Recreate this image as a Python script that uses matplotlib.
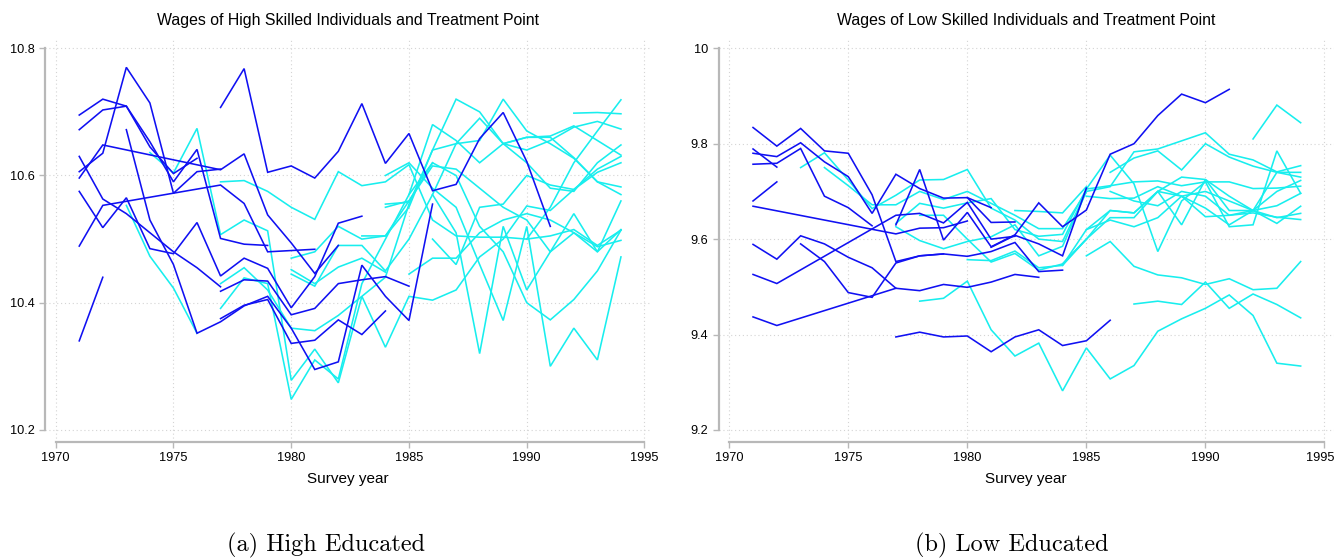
import numpy as np
import matplotlib
matplotlib.use("Agg")
import matplotlib.pyplot as plt
import matplotlib.transforms as mtransforms

plt.rcParams['font.family'] = ['Liberation Sans', 'DejaVu Sans']

BLUE = "#1010f2"
CYAN = "#18eeee"

# each individual: (first year or list of years, log wages)
# high educated, before treatment
high_pre = [
    (1971, [10.695, 10.720, 10.709, 10.653, 10.590, 10.641, 10.501, 10.492, 10.490]),
    (1971, [10.672, 10.703, 10.709, 10.645, 10.603, 10.627]),
    (1971, [10.606, 10.635, 10.770, 10.714, 10.572, 10.606, 10.610]),
    ([1971, 1972, 1977, 1978, 1979, 1980, 1981, 1982],
     [10.596, 10.648, 10.609, 10.634, 10.538, 10.494, 10.446, 10.490]),
    (1971, [10.630, 10.563, 10.540, 10.510, 10.480, 10.455, 10.425]),
    ([1971, 1972, 1977, 1978, 1979, 1980, 1981],
     [10.489, 10.553, 10.585, 10.556, 10.480, 10.482, 10.484]),
    (1971, [10.575, 10.518, 10.565, 10.485, 10.477, 10.526, 10.442, 10.470, 10.454,
            10.392, 10.441, 10.525, 10.536]),
    (1971, [10.340, 10.440]),
    (1973, [10.672, 10.530, 10.460, 10.352, 10.370, 10.395, 10.410, 10.360, 10.295,
            10.307, 10.459, 10.410, 10.372, 10.555]),
    (1977, [10.707, 10.768, 10.605, 10.615, 10.596, 10.638, 10.713, 10.619, 10.666,
            10.576, 10.586, 10.658, 10.699, 10.622, 10.520]),
    (1977, [10.418, 10.436, 10.434, 10.381, 10.391, 10.430, 10.436, 10.441, 10.426]),
    (1977, [10.375, 10.396, 10.405, 10.336, 10.341, 10.373, 10.350, 10.387]),
]

# high educated, after treatment
high_post = [
    (1973, [10.553, 10.473, 10.423, 10.352]),
    (1974, [10.636, 10.604, 10.674, 10.507, 10.530, 10.513, 10.278, 10.327, 10.274, 10.410,
            10.330, 10.410, 10.404, 10.420, 10.472, 10.500, 10.552, 10.545, 10.578, 10.605,
            10.620]),
    (1977, [10.590, 10.592, 10.575, 10.550, 10.531, 10.606, 10.584, 10.590, 10.617, 10.530,
            10.505, 10.503, 10.503, 10.500, 10.505, 10.515, 10.490, 10.514]),
    (1977, [10.430, 10.455, 10.420, 10.360, 10.356, 10.380, 10.410, 10.440, 10.555, 10.640,
            10.650, 10.690, 10.650, 10.660, 10.662, 10.678, 10.655, 10.632]),
    (1977, [10.391, 10.439, 10.430, 10.248, 10.310, 10.280, 10.430, 10.500, 10.570, 10.620,
            10.600, 10.520, 10.480, 10.400, 10.373, 10.405, 10.450, 10.514]),
    (1980, [10.470, 10.480, 10.520, 10.500, 10.505, 10.550, 10.640, 10.720, 10.700, 10.650,
            10.660, 10.660, 10.628, 10.590, 10.582]),
    (1980, [10.445, 10.426, 10.490, 10.490, 10.450, 10.500, 10.570, 10.650, 10.655, 10.720,
            10.670, 10.650, 10.627, 10.590, 10.570]),
    (1984, [10.550, 10.560, 10.615, 10.610, 10.580, 10.550, 10.530, 10.480, 10.510, 10.488,
            10.498]),
    (1985, [10.445, 10.470, 10.470, 10.510, 10.530, 10.540, 10.530, 10.510, 10.480, 10.515]),
    (1986, [10.500, 10.460, 10.550, 10.555, 10.600, 10.585, 10.578, 10.610, 10.630]),
    (1986, [10.570, 10.510, 10.320, 10.520, 10.420, 10.480, 10.540, 10.480, 10.560]),
    (1984, [10.600, 10.620, 10.580, 10.550, 10.460, 10.372, 10.520, 10.300, 10.360, 10.310,
            10.472]),
    (1985, [10.570, 10.680, 10.655, 10.620, 10.650, 10.620, 10.580, 10.575, 10.620, 10.648]),
    (1992, [10.698, 10.699, 10.697]),
    (1989, [10.650, 10.640, 10.655, 10.676, 10.685, 10.673]),
    (1990, [10.500, 10.550, 10.620, 10.670, 10.719]),
    (1980, [10.452, 10.430, 10.456, 10.470, 10.448]),
    (1984, [10.555, 10.558]),
    (1983, [10.505, 10.505, 10.560, 10.620]),
]

# low educated, before treatment
low_pre = [
    (1971, [9.834, 9.795, 9.832, 9.785, 9.780, 9.693, 9.553, 9.565, 9.569]),
    (1971, [9.789, 9.751]),
    (1971, [9.780, 9.773, 9.802, 9.762, 9.731, 9.654, 9.736, 9.706, 9.686, 9.687, 9.635,
            9.636]),
    (1971, [9.757, 9.759, 9.790, 9.690, 9.666, 9.628]),
    (1971, [9.680, 9.720]),
    ([1971, 1977, 1978, 1979, 1980], [9.669, 9.611, 9.623, 9.624, 9.638]),
    (1971, [9.589, 9.558, 9.607, 9.590, 9.562, 9.540, 9.497, 9.492, 9.505, 9.499, 9.510,
            9.526, 9.520]),
    ([1971, 1972, 1977, 1978, 1979, 1980, 1981, 1982],
     [9.526, 9.507, 9.650, 9.654, 9.634, 9.677, 9.600, 9.606]),
    ([1971, 1972, 1977], [9.437, 9.419, 9.497]),
    (1973, [9.590, 9.553, 9.488, 9.478, 9.550, 9.565, 9.569, 9.564, 9.574, 9.593, 9.532,
            9.535]),
    (1977, [9.395, 9.405, 9.395, 9.397, 9.364, 9.395, 9.410, 9.377, 9.387, 9.430]),
    (1977, [9.630, 9.746, 9.598, 9.656, 9.584, 9.609, 9.676, 9.626, 9.661, 9.778, 9.800,
            9.859, 9.904, 9.886, 9.914]),
    (1980, [9.687, 9.666]),
    (1981, [9.583, 9.608, 9.590, 9.565, 9.707]),
]

# low educated, after treatment
low_post = [
    (1973, [9.750, 9.781, 9.724, 9.664, 9.692, 9.724, 9.725, 9.746, 9.665, 9.640, 9.600,
            9.595, 9.700]),
    (1974, [9.750, 9.712, 9.672, 9.672, 9.700, 9.683, 9.700, 9.675, 9.650, 9.622, 9.622,
            9.700]),
    (1977, [9.633, 9.675, 9.665, 9.676, 9.685, 9.620, 9.606, 9.610, 9.705]),
    (1977, [9.626, 9.597, 9.580, 9.595, 9.605, 9.630, 9.565, 9.585, 9.700]),
    (1978, [9.650, 9.650, 9.600, 9.552, 9.570, 9.535, 9.548, 9.600]),
    (1982, [9.660, 9.658, 9.655, 9.710]),
    (1980, [9.557, 9.555, 9.575, 9.540, 9.545, 9.600]),
    (1978, [9.470, 9.476, 9.512, 9.410, 9.355, 9.382, 9.282, 9.372, 9.307, 9.335, 9.407,
            9.433, 9.455, 9.483, 9.440, 9.340, 9.334]),
    (1987, [9.464, 9.470, 9.463, 9.510, 9.455, 9.485, 9.463, 9.435]),
    (1985, [9.565, 9.595, 9.543, 9.525, 9.519, 9.505, 9.517, 9.494, 9.497, 9.553]),
    (1992, [9.810, 9.881, 9.844]),
    (1985, [9.700, 9.710, 9.783, 9.789, 9.806, 9.823, 9.778, 9.766, 9.741, 9.754]),
    (1986, [9.740, 9.770, 9.785, 9.745, 9.800, 9.772, 9.753, 9.740, 9.740]),
    (1985, [9.705, 9.776, 9.716, 9.574, 9.680, 9.720, 9.626, 9.630, 9.785, 9.696]),
    (1985, [9.705, 9.712, 9.720, 9.722, 9.712, 9.720, 9.720, 9.706, 9.707, 9.711]),
    (1985, [9.690, 9.685, 9.686, 9.710, 9.690, 9.700, 9.680, 9.660, 9.670, 9.696]),
    (1985, [9.620, 9.660, 9.655, 9.700, 9.690, 9.665, 9.630, 9.660, 9.645, 9.654]),
    (1985, [9.600, 9.645, 9.645, 9.700, 9.630, 9.725, 9.660, 9.660, 9.740, 9.730]),
    (1984, [9.545, 9.620, 9.640, 9.626, 9.645, 9.690, 9.647, 9.650, 9.660, 9.633, 9.669]),
    (1984, [9.548, 9.600, 9.660, 9.655, 9.700, 9.730, 9.725, 9.690, 9.660, 9.700, 9.723]),
    (1986, [9.700, 9.680, 9.670, 9.700, 9.690, 9.650, 9.655, 9.646, 9.641]),
]

year_ticks = [1970, 1975, 1980, 1985, 1990, 1995]
high_ticks = [10.2, 10.4, 10.6, 10.8]
high_tick_labels = ["10.2", "10.4", "10.6", "10.8"]
low_ticks = [9.2, 9.4, 9.6, 9.8, 10.0]
low_tick_labels = ["9.2", "9.4", "9.6", "9.8", "10"]

W, H = 1336, 558
fig = plt.figure(figsize=(W / 100, H / 100), dpi=100)


def box(left, top, right, bottom):
    return [left / W, 1 - bottom / H, (right - left) / W, (bottom - top) / H]


def years(x, y):
    if isinstance(x, int):
        return np.arange(x, x + len(y))
    return np.array(x)


def panel(rect, pre, post, yticks, ylabels, xlim, ylim, title):
    ax = fig.add_axes(rect)
    for x, y in post:
        ax.plot(years(x, y), y, color=CYAN, lw=1.15, solid_joinstyle='miter')
    for x, y in pre:
        ax.plot(years(x, y), y, color=BLUE, lw=1.15, solid_joinstyle='miter')
    ax.set_xlim(*xlim)
    ax.set_ylim(*ylim)
    ax.set_xticks(year_ticks)
    ax.set_yticks(yticks)
    ax.set_yticklabels(ylabels)
    ax.grid(True, color="#d4d4d4", lw=0.8, linestyle=(0, (1, 2.5)))
    ax.set_axisbelow(True)
    for s in ["top", "right"]:
        ax.spines[s].set_visible(False)
    ax.spines["left"].set_bounds(yticks[0], yticks[-1])
    ax.spines["bottom"].set_bounds(year_ticks[0], year_ticks[-1])
    for s in ["left", "bottom"]:
        ax.spines[s].set_color("#b8b8b8")
        ax.spines[s].set_linewidth(1.6)
    ax.tick_params(direction="out", length=4.3, width=1, color="#b8b8b8",
                   labelsize=9.2, pad=3)
    ax.set_title(title, fontsize=11.4, pad=11)
    ax.set_xlabel("Survey year", fontsize=11, labelpad=6)
    return ax


panel(box(45, 40, 651, 442), high_pre, high_post, high_ticks, high_tick_labels,
      (1969.546, 1995.276), (10.181, 10.813),
      "Wages of High Skilled Individuals and Treatment Point")
ax_low = panel(box(718.5, 40, 1334, 442), low_pre, low_post, low_ticks, low_tick_labels,
               (1969.55, 1995.4), (9.1748, 10.0174),
               "Wages of Low Skilled Individuals and Treatment Point")

# last year label sits at the figure edge, nudge it inside
last = ax_low.get_xticklabels()[-1]
last.set_transform(last.get_transform() +
                   mtransforms.ScaledTranslation(-4 / 100, 0, fig.dpi_scale_trans))

fig.text(326 / W, 1 - 545 / H, "(a) High Educated", family="cmr10", fontsize=17.5,
         ha="center", va="center")
fig.text(1012 / W, 1 - 545 / H, "(b) Low Educated", family="cmr10", fontsize=17.5,
         ha="center", va="center")

fig.savefig("out.png", dpi=100)
